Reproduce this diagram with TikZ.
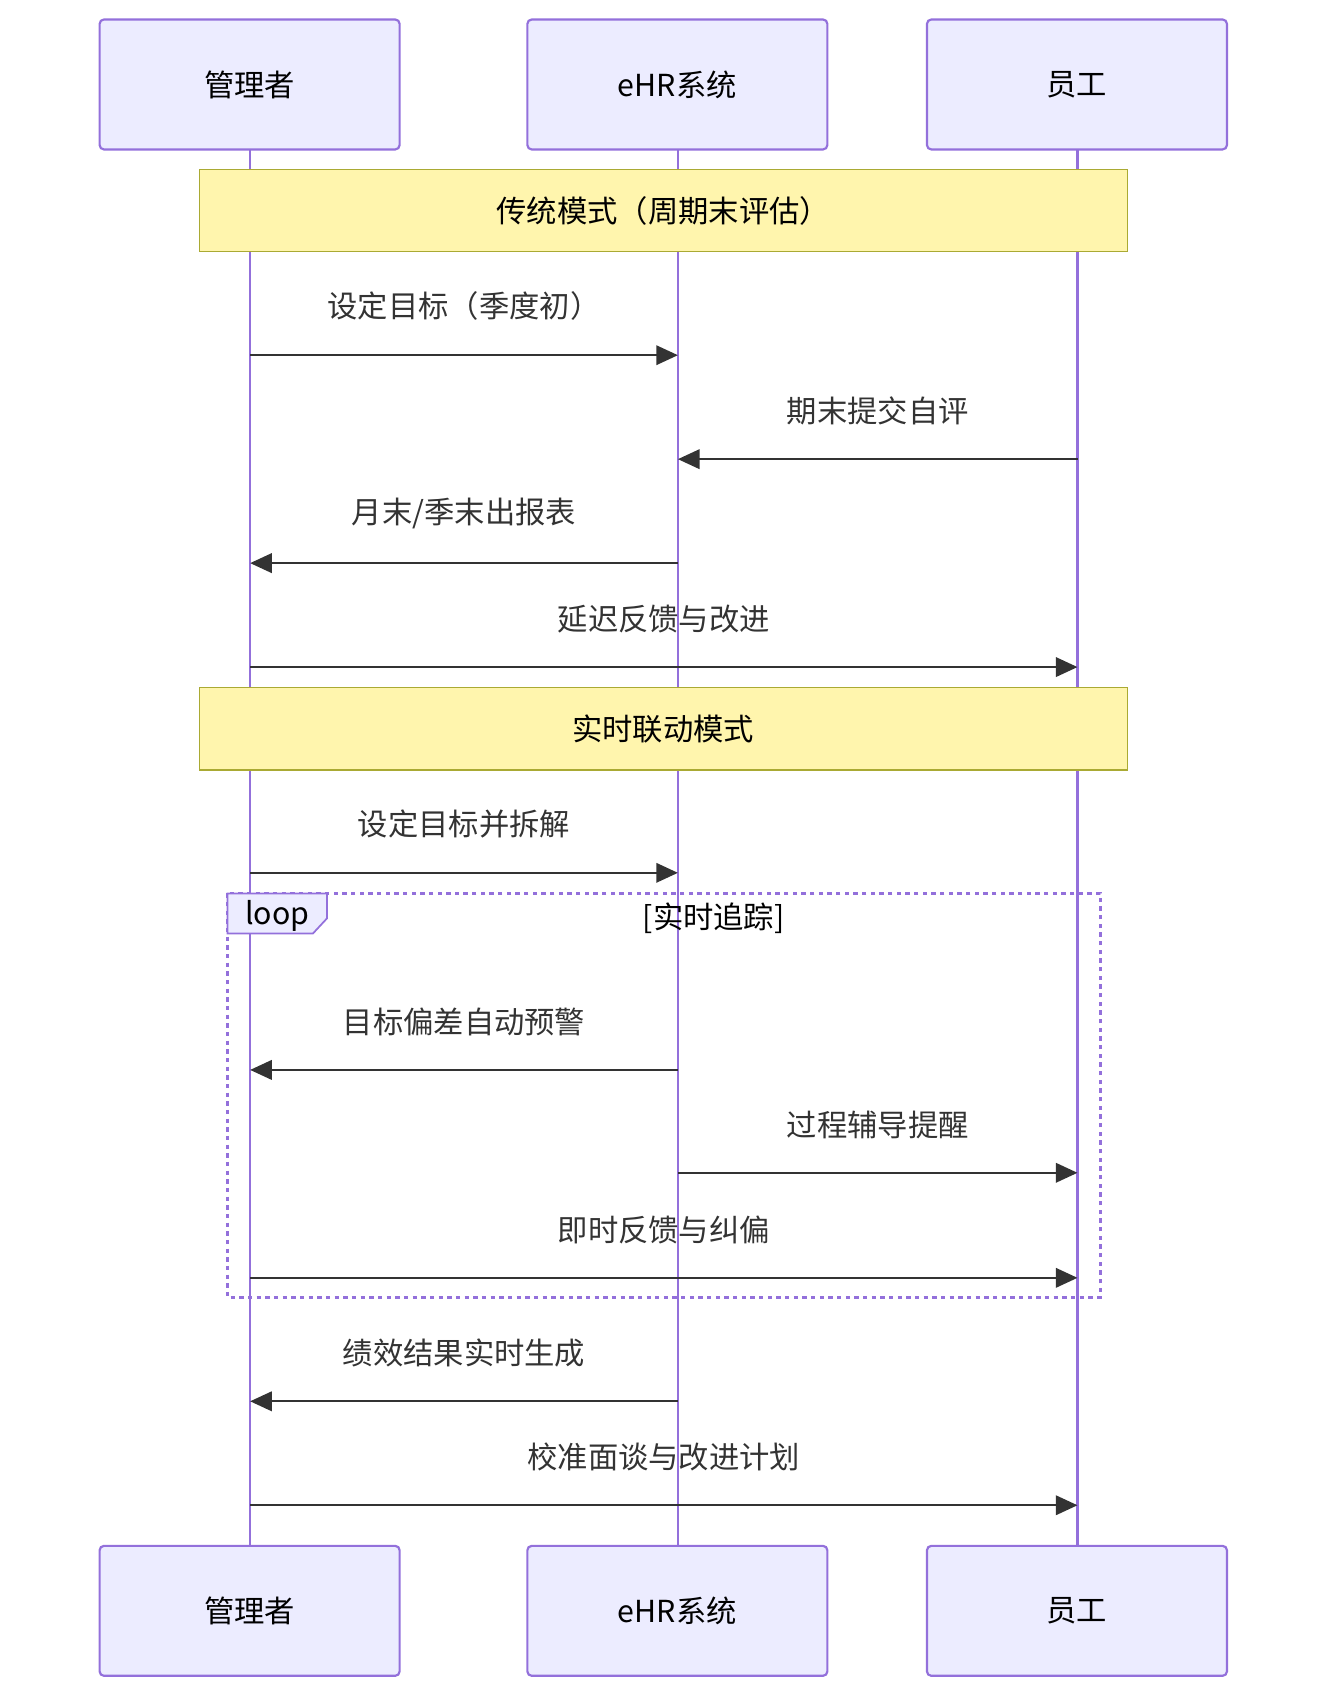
\documentclass[tikz,border=0pt]{standalone}
\usepackage{fontspec}
\setmainfont{Noto Sans CJK SC}
\usetikzlibrary{arrows.meta}
\definecolor{actfill}{HTML}{ECECFF}
\definecolor{actline}{HTML}{9370DB}
\definecolor{notefill}{HTML}{FFF5AD}
\definecolor{noteline}{HTML}{AAAA33}
\definecolor{msg}{HTML}{333333}
\tikzset{
  actor/.style={draw=actline,fill=actfill,line width=1pt,rounded corners=2pt,minimum width=138.5pt,minimum height=60pt,inner sep=0pt,font=\fontsize{14}{16}\selectfont},
  note/.style={draw=noteline,fill=notefill,line width=0.6pt,minimum width=428.5pt,minimum height=38pt,inner sep=0pt,font=\fontsize{14}{16}\selectfont},
  life/.style={actline,line width=1.2pt},
  arr/.style={-{Triangle[length=10pt,width=9pt]},msg,line width=1pt},
  lbl/.style={text=msg,font=\fontsize{14}{16}\selectfont}
}
\begin{document}
\begin{tikzpicture}[x=0.5pt,y=-0.5pt]
\useasboundingbox (0,0) rectangle (1226,1568);

% lifelines
\draw[life] (231,138)--(231,1428);
\draw[life] (626,138)--(626,1428);
\draw[life] (995,138)--(995,1428);

% actors
\node[actor] (mgrT) at (230.5,78) {管理者};
\node[actor] (ehrT) at (625.5,78) {eHR系统};
\node[actor] (empT) at (994.5,78) {员工};
\node[actor] (mgrB) at (230.5,1487.5) {管理者};
\node[actor] (ehrB) at (625.5,1487.5) {eHR系统};
\node[actor] (empB) at (994.5,1487.5) {员工};

% notes
\node[note] (old) at (612.5,194.5) {传统模式（周期末评估）};
\node[note] (new) at (612.5,673) {实时联动模式};

% loop frame
\draw[actline,line width=1.2pt,dash pattern=on 2pt off 2pt] (210,825) rectangle (1016,1198);
\draw[actline,fill=actfill,line width=0.8pt] (210,825)--(302,825)--(302,848)--(289,862)--(210,862)--cycle;
\node[lbl,text=black] (loopname) at (256,846) {loop};
\node[lbl,text=black] (loopcond) at (659,848) {[实时追踪]};

% anchors on lifelines
\foreach \y/\n in {328/a,424/b,520/c,616/d,806/e,988/f,1083/g,1180/h,1294/i,1390/j}{
  \coordinate (A\n) at (231,\y);
  \coordinate (B\n) at (626,\y);
  \coordinate (C\n) at (995,\y);
}

% messages
\draw[arr] (Aa)--(Ba) node[lbl,midway,above=12pt] {设定目标（季度初）};
\draw[arr] (Cb)--(Bb) node[lbl,midway,above=12pt] {期末提交自评};
\draw[arr] (Bc)--(Ac) node[lbl,midway,above=12pt] {月末/季末出报表};
\draw[arr] (Ad)--(Cd) node[lbl,midway,above=12pt] {延迟反馈与改进};
\draw[arr] (Ae)--(Be) node[lbl,midway,above=12pt] {设定目标并拆解};
\draw[arr] (Bf)--(Af) node[lbl,midway,above=12pt] {目标偏差自动预警};
\draw[arr] (Bg)--(Cg) node[lbl,midway,above=12pt] {过程辅导提醒};
\draw[arr] (Ah)--(Ch) node[lbl,midway,above=12pt] {即时反馈与纠偏};
\draw[arr] (Bi)--(Ai) node[lbl,midway,above=12pt] {绩效结果实时生成};
\draw[arr] (Aj)--(Cj) node[lbl,midway,above=12pt] {校准面谈与改进计划};
\end{tikzpicture}
\end{document}
